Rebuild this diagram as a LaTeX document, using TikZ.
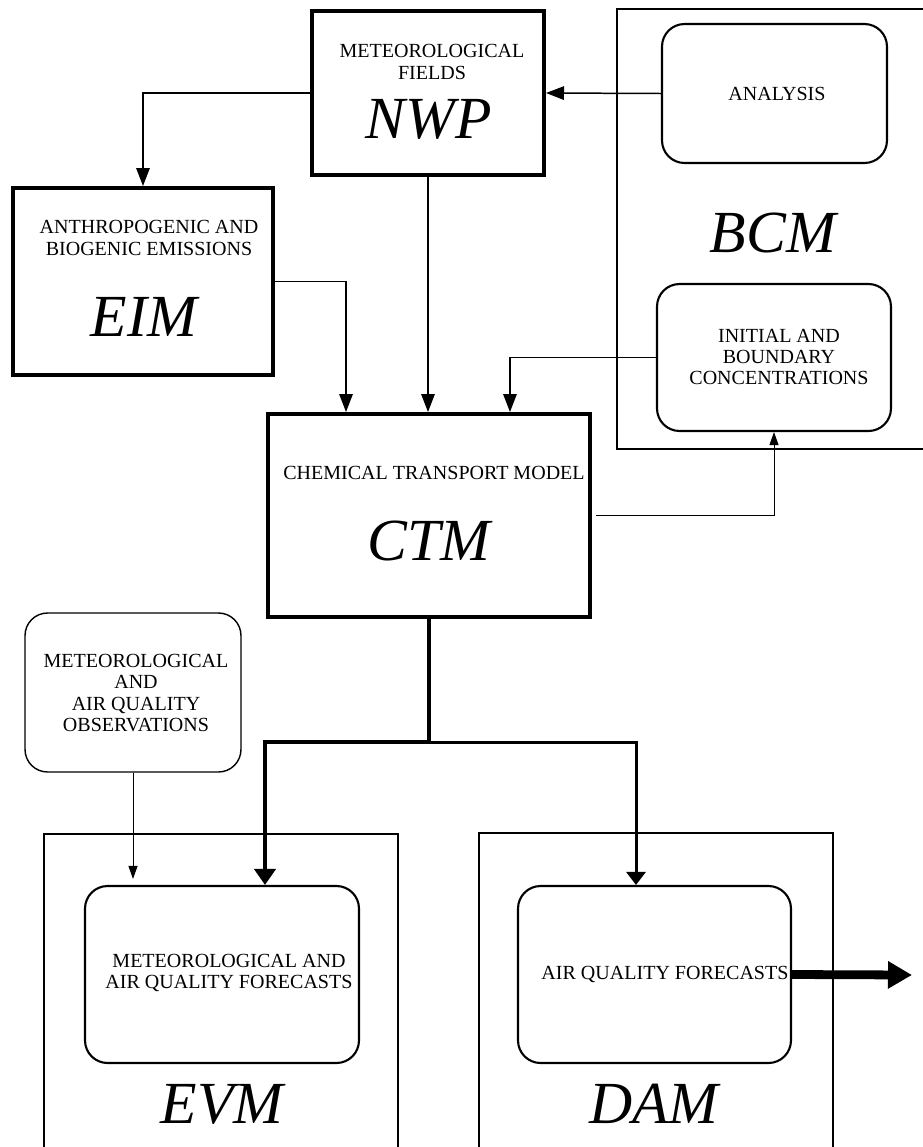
\documentclass[tikz,border=0pt]{standalone}
\usepackage{fontspec}
\setmainfont{Liberation Serif}
\usetikzlibrary{arrows.meta}

\begin{document}
\begin{tikzpicture}[x=0.02cm, y=-0.02cm,
	main_box/.style={draw, line width=2.3pt, inner sep=0pt},
	round_box/.style={draw, rounded corners=0.45cm, line width=1.2pt, inner sep=0pt},
	frame_line/.style={line width=0.6pt},
	small_text/.style={font=\fontsize{11.4}{12}\selectfont, align=center, inner sep=0pt},
	big_text/.style={font=\fontsize{34}{36}\selectfont\itshape, inner sep=0pt},
	thin_arrow/.style={line width=0.85pt, -{Triangle[length=0.36cm, width=0.27cm]}},
	small_arrow/.style={line width=0.5pt, -{Triangle[length=0.26cm, width=0.18cm]}},
	heavy_arrow/.style={line width=2.3pt, -{Triangle[length=0.32cm, width=0.42cm]}},
	medium_arrow/.style={line width=1.7pt, -{Triangle[length=0.26cm, width=0.38cm]}},
	fat_arrow/.style={line width=5pt, -{Triangle[length=0.48cm, width=0.52cm]}}]
	\useasboundingbox (0,0) rectangle (923,1147);

	\draw[frame_line] (923,9) -| (617,449) -- (923,449);
	\draw[frame_line] (44,1147) |- (398,834) -- (398,1147);
	\draw[frame_line] (479,1147) |- (833,833) -- (833,1147);

	\node[main_box, minimum width=4.64cm, minimum height=3.28cm] (nwp) at (428,93) {};
	\node[main_box, minimum width=5.2cm, minimum height=3.74cm] (eim) at (143,281.5) {};
	\node[main_box, minimum width=6.44cm, minimum height=4.06cm] (ctm) at (429,515.5) {};
	\node[round_box, minimum width=4.5cm, minimum height=2.78cm] (analysis) at (774.5,93.5) {};
	\node[round_box, minimum width=4.68cm, minimum height=2.94cm] (init) at (774,357.5) {};
	\node[round_box, line width=0.8pt, minimum width=4.32cm, minimum height=3.18cm] (obs) at (133,692.5) {};
	\node[round_box, minimum width=5.48cm, minimum height=3.54cm] (evmbox) at (222,974.5) {};
	\node[round_box, minimum width=5.46cm, minimum height=3.54cm] (dambox) at (654.5,974.5) {};

	\node[small_text] (nwptxt) at (432,62) {METEOROLOGICAL\\FIELDS};
	\node[big_text] (nwplbl) at (429,119) {NWP};
	\node[small_text] (eimtxt) at (149,238) {ANTHROPOGENIC AND\\BIOGENIC EMISSIONS};
	\node[big_text] (eimlbl) at (144,317) {EIM};
	\node[small_text] (anatxt) at (777,94) {ANALYSIS};
	\node[big_text] (bcmlbl) at (773,233) {BCM};
	\node[small_text] (inittxt) at (779,357) {INITIAL AND\\BOUNDARY\\CONCENTRATIONS};
	\node[small_text] (ctmtxt) at (434,473) {CHEMICAL TRANSPORT MODEL};
	\node[big_text] (ctmlbl) at (429,541) {CTM};
	\node[small_text] (obstxt) at (136,693) {METEOROLOGICAL\\AND\\AIR QUALITY\\OBSERVATIONS};
	\node[small_text] (evmtxt) at (229,973) {METEOROLOGICAL AND\\AIR QUALITY FORECASTS};
	\node[small_text] (damtxt) at (665,974) {AIR QUALITY FORECASTS};
	\node[big_text] (evmlbl) at (222,1104) {EVM};
	\node[big_text] (damlbl) at (654,1104) {DAM};

	\coordinate (out) at (912,975);

	\draw[thin_arrow] (analysis.west) -- (nwp.east);
	\draw[thin_arrow] (nwp.west) -| (eim.north);
	\draw[thin_arrow] (eim.east) -| ([xshift=-1.66cm]ctm.north);
	\draw[thin_arrow] (nwp.south) -- (nwp.south |- ctm.north);
	\draw[thin_arrow] (init.west) -| ([xshift=1.62cm]ctm.north);
	\draw[small_arrow] ([xshift=0.08cm]ctm.east) -| (init.south);
	\draw[heavy_arrow] (ctm.south) -- ++(0,123) coordinate (split) -| ([xshift=0.86cm]evmbox.north);
	\draw[medium_arrow] (split) -| ([xshift=-0.37cm]dambox.north);
	\draw[small_arrow] (obs.south) -- ([yshift=0.12cm]obs.south |- evmbox.north);
	\draw[fat_arrow] (dambox.east) -- (out);
\end{tikzpicture}
\end{document}
